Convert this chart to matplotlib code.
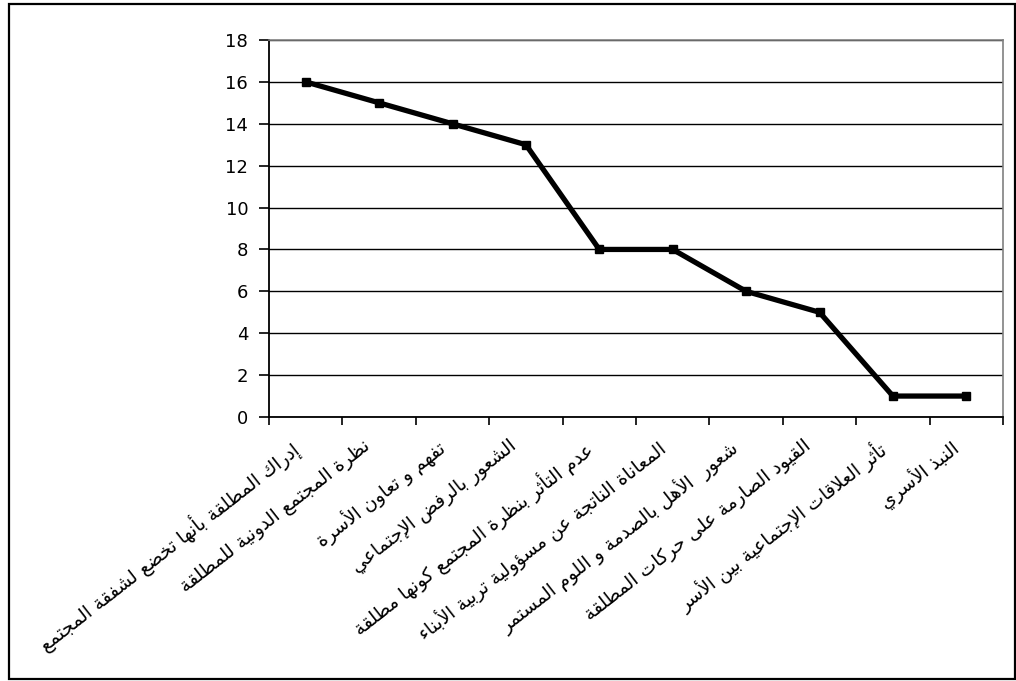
import numpy as np
import matplotlib
matplotlib.use("Agg")
import matplotlib.pyplot as plt
import matplotlib.transforms as mtransforms
from matplotlib.patches import Rectangle

# Chart data
labels = [
    "إدراك المطلقة بأنها تخضع لشفقة المجتمع",
    "نظرة المجتمع الدونية للمطلقة",
    "تفهم و تعاون الأسرة",
    "الشعور بالرفض الإجتماعي",
    "عدم التأثر بنظرة المجتمع كونها مطلقة",
    "المعاناة الناتجة عن مسؤولية تربية الأبناء",
    "شعور  الأهل بالصدمة و اللوم المستمر",
    "القيود الصارمة على حركات المطلقة",
    "تأثر العلاقات الإجتماعية بين الأسر",
    "النبذ الأسري",
]
values = [16, 15, 14, 13, 8, 8, 6, 5, 1, 1]
y_ticks = list(range(0, 19, 2))

# matplotlib has no Arabic shaping, so map letters to presentation forms
FOUR = {'ئ': 0xFE89, 'ب': 0xFE8F, 'ت': 0xFE95, 'ث': 0xFE99, 'ج': 0xFE9D,
        'ح': 0xFEA1, 'خ': 0xFEA5, 'س': 0xFEB1, 'ش': 0xFEB5, 'ص': 0xFEB9,
        'ض': 0xFEBD, 'ط': 0xFEC1, 'ظ': 0xFEC5, 'ع': 0xFEC9, 'غ': 0xFECD,
        'ف': 0xFED1, 'ق': 0xFED5, 'ك': 0xFED9, 'ل': 0xFEDD, 'م': 0xFEE1,
        'ن': 0xFEE5, 'ه': 0xFEE9, 'ي': 0xFEF1}
TWO = {'آ': 0xFE81, 'أ': 0xFE83, 'ؤ': 0xFE85, 'إ': 0xFE87, 'ا': 0xFE8D,
       'ة': 0xFE93, 'د': 0xFEA9, 'ذ': 0xFEAB, 'ر': 0xFEAD, 'ز': 0xFEAF,
       'و': 0xFEED, 'ى': 0xFEEF}
ONE = {'ء': 0xFE80}
LAM_ALEF = {'آ': 0xFEF5, 'أ': 0xFEF7, 'إ': 0xFEF9, 'ا': 0xFEFB}


def shape(text):
    items = []
    i = 0
    while i < len(text):
        c = text[i]
        if c == 'ل' and i + 1 < len(text) and text[i + 1] in LAM_ALEF:
            items.append((LAM_ALEF[text[i + 1]], 2))
            i += 2
            continue
        if c in FOUR:
            items.append((FOUR[c], 4))
        elif c in TWO:
            items.append((TWO[c], 2))
        elif c in ONE:
            items.append((ONE[c], 1))
        else:
            items.append((c, 0))
        i += 1
    out = []
    for k, (b, n) in enumerate(items):
        if n == 0:
            out.append(b)
            continue
        prev_n = items[k - 1][1] if k > 0 else 0
        next_n = items[k + 1][1] if k + 1 < len(items) else 0
        jp = prev_n == 4 and n > 1
        jn = n == 4 and next_n >= 2
        off = 3 if (jp and jn) else 1 if jp else 2 if jn else 0
        out.append(chr(b + off))
    return ''.join(out)[::-1]


plt.rcParams['font.family'] = ['DejaVu Sans']

fig = plt.figure(figsize=(10.16, 6.81), dpi=100)
ax = fig.add_axes([269 / 1016, 264 / 681, 734 / 1016, 377 / 681])

x = np.arange(len(values)) + 0.5
ax.plot(x, values, color='black', lw=3.8, marker='s', markersize=5.5,
        solid_joinstyle='miter', zorder=3)

ax.set_xlim(0, len(values))
ax.set_ylim(0, 18)
ax.set_yticks(y_ticks)
ax.yaxis.grid(True, color='black', lw=1.0)
ax.set_axisbelow(True)

ax.set_xticks(np.arange(len(values) + 1))
ax.set_xticklabels([])
ax.set_xticks(x, [shape(t) for t in labels], minor=True)
ax.tick_params(axis='x', which='major', length=6, width=1.2, direction='out')
ax.tick_params(axis='x', which='minor', length=0, pad=14, labelsize=13.5)
ax.tick_params(axis='y', length=7, width=1.2, labelsize=13, pad=8)

shift = mtransforms.ScaledTranslation(-17 / 100, 0, fig.dpi_scale_trans)
for lab in ax.get_xticklabels(minor=True):
    lab.set_rotation(38)
    lab.set_ha('right')
    lab.set_va('top')
    lab.set_rotation_mode('anchor')
    lab.set_transform(lab.get_transform() + shift)

for side in ['left', 'bottom']:
    ax.spines[side].set_color('black')
    ax.spines[side].set_linewidth(1.3)
for side in ['top', 'right']:
    ax.spines[side].set_color('#808080')
    ax.spines[side].set_linewidth(1.2)

# outer chart frame
fig.add_artist(Rectangle((9 / 1016, 2 / 681), 1006 / 1016, 675 / 681,
                         transform=fig.transFigure, fill=False,
                         edgecolor='black', lw=1.6))

plt.savefig("out.png", dpi=100)
